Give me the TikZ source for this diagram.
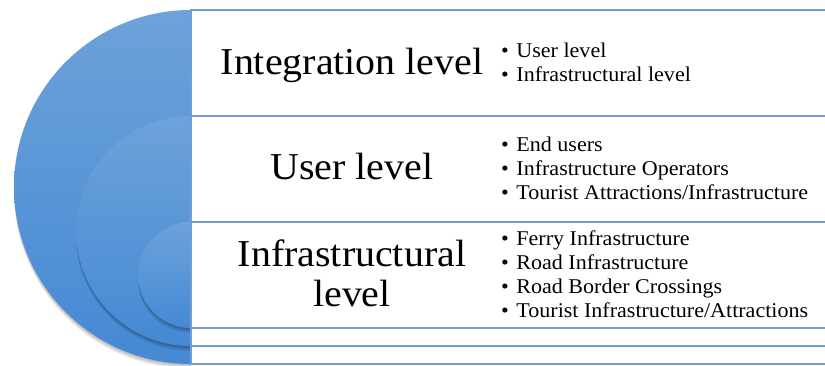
\documentclass[tikz,border=0pt]{standalone}
\usepackage{fontspec}
\setmainfont{Liberation Serif}[FakeStretch=1.05]
\usepackage{tikz}
\usetikzlibrary{positioning}

\definecolor{ringtop}{HTML}{6DA2DA}
\definecolor{ringbot}{HTML}{4589D4}
\definecolor{rulecol}{HTML}{6F9DD6}

\newcommand{\itm}{\textbullet\hspace{7.5pt}}

\tikzset{
    ring/.style={top color=ringtop, bottom color=ringbot},
    ringshadow/.style={fill=black, opacity=0.06},
    band/.style={draw=rulecol, line width=1.2pt},
    title/.style={font=\fontsize{38}{40}\selectfont, align=center, inner sep=0pt},
    items/.style={font=\fontsize{21}{24}\selectfont, align=left, inner sep=0pt, anchor=west},
}

\begin{document}
\begin{tikzpicture}[x=1pt, y=1pt]
        \useasboundingbox (0,0) rectangle (825,366);

        % rings, outer to inner: radius/top
        \foreach \r/\t in {177/356, 115/250, 53/144} {
            \foreach \s in {1,...,5}
                \fill[ringshadow] (191,\t-\s) arc[start angle=90, end angle=270, radius=\r] -- cycle;
            \shade[ring] (191,\t) arc[start angle=90, end angle=270, radius=\r] -- cycle;
        }

        % boxes
        \draw[band] (191,356) rectangle (830,2);
        \draw[band] (191,250) rectangle (830,20);
        \draw[band] (191,144) rectangle (830,38);

        \node[title, anchor=base] (intg) at (352,291) {Integration level};
        \node[title, anchor=base] (user) at (352,186) {User level};
        \node[title] (infr) at (352,93) {Infrastructural\\level};

        \node[items] (intglist) at (501,304) {\itm User level\\\itm Infrastructural level};
        \node[items] (userlist) at (501,198) {\itm End users\\\itm Infrastructure Operators\\\itm Tourist Attractions/Infrastructure};
        \node[items] (infrlist) at (501,92) {\itm Ferry Infrastructure\\\itm Road Infrastructure\\\itm Road Border Crossings\\\itm Tourist Infrastructure/Attractions};
    \end{tikzpicture}
\end{document}
